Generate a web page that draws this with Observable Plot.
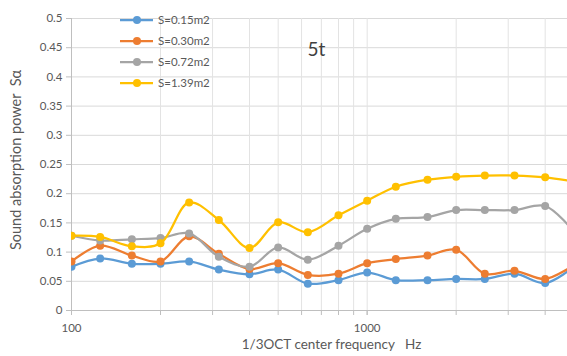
<!DOCTYPE html>
<html>
<head>
<meta charset="utf-8">
<script src="https://cdn.jsdelivr.net/npm/d3@7"></script>
<script src="https://cdn.jsdelivr.net/npm/@observablehq/plot@0.6"></script>
<style>
  html, body { margin: 0; padding: 0; background: #fff; overflow: hidden; }
  #wrap { position: relative; width: 567px; height: 356px; font-family: Lato, "Open Sans", sans-serif; }
  #legend { position: absolute; left: 120px; top: 9px; font-size: 11.5px; color: #595959; }
  #legend .row { display: flex; align-items: center; height: 21px; }
  #legend svg { margin-right: 4px; }
  #ytitle { position: absolute; left: 15px; top: 160px; transform: translate(-50%, -50%) rotate(-90deg); white-space: pre; font-size: 14.5px; color: #595959; }
</style>
</head>
<body>
<div id="wrap"><div id="chart"></div><div id="legend"></div><div id="ytitle"></div></div>
<script>
const freqs = [100,125,160,200,250,315,400,500,630,800,1000,1250,1600,2000,2500,3150,4000,5000];
const s015 = [0.075,0.089,0.080,0.080,0.084,0.070,0.062,0.070,0.046,0.052,0.065,0.052,0.052,0.054,0.054,0.063,0.047,0.075];
const s030 = [0.084,0.111,0.094,0.084,0.127,0.097,0.071,0.081,0.061,0.063,0.081,0.088,0.094,0.104,0.063,0.068,0.054,0.078];
const s072 = [0.128,0.120,0.122,0.124,0.132,0.092,0.075,0.108,0.087,0.111,0.140,0.157,0.160,0.172,0.172,0.172,0.179,0.135];
const s139 = [0.128,0.126,0.110,0.115,0.185,0.155,0.107,0.151,0.134,0.163,0.188,0.212,0.224,0.229,0.231,0.231,0.228,0.221];
const seriesNames = ["S=0.15m2","S=0.30m2","S=0.72m2","S=1.39m2"];
const seriesColors = ["#5B9BD5","#ED7D31","#A5A5A5","#FFC000"];
const yTicks = [0,0.05,0.1,0.15,0.2,0.25,0.3,0.35,0.4,0.45,0.5];
const xLabelTicks = [100,1000];
const xGridTicks = [200,300,400,500,600,700,800,900,1000,2000,3000,4000];
const chartTitle = "5t";
const xTitle = "1/3OCT center frequency   Hz";
const yTitle = "Sound absorption power  S\u03b1";

const allSeries = [s015, s030, s072, s139];
const rows = [];
allSeries.forEach((vals, i) => vals.forEach((v, j) => rows.push({s: seriesNames[i], f: freqs[j], v})));

const seriesMarks = [];
seriesNames.forEach(name => {
  const d = rows.filter(r => r.s === name);
  seriesMarks.push(Plot.line(d, {x: "f", y: "v", stroke: "s", strokeWidth: 2.25, curve: "catmull-rom", clip: true}));
  seriesMarks.push(Plot.dot(d, {x: "f", y: "v", fill: "s", r: 4, clip: true}));
});

const chart = Plot.plot({
  width: 567,
  height: 356,
  marginLeft: 71,
  marginRight: 0,
  marginTop: 18,
  marginBottom: 46,
  style: {fontFamily: "Lato, 'Open Sans', sans-serif", fontSize: "11.5px", color: "#595959", background: "#fff"},
  x: {type: "log", domain: [100, 4760]},
  y: {domain: [0, 0.5]},
  color: {domain: seriesNames, range: seriesColors},
  marks: [
    Plot.gridY(yTicks, {stroke: "#d9d9d9", strokeOpacity: 1}),
    Plot.gridX(xGridTicks, {stroke: "#e3e3e3", strokeOpacity: 1}),
    Plot.ruleY([0], {stroke: "#bfbfbf"}),
    Plot.ruleX([100], {stroke: "#bfbfbf"}),
    Plot.axisY({ticks: yTicks, tickSize: 5, tickPadding: 4, stroke: "#bfbfbf", tickFormat: d => String(+d.toFixed(2)), label: null, fill: "#595959"}),
    Plot.axisX({ticks: xGridTicks, tickSize: 5, tickFormat: () => "", stroke: "#bfbfbf", label: null}),
    Plot.axisX({ticks: xLabelTicks, tickSize: 5, tickPadding: 8, stroke: "#bfbfbf", tickFormat: d => String(d), label: null, fill: "#595959"}),
    Plot.text([xTitle], {frameAnchor: "bottom", dy: 38, dx: 12, fontSize: 13.5, fill: "#595959"}),
    Plot.text([chartTitle], {frameAnchor: "top-left", dx: 236, dy: 24, fontSize: 19, fill: "#404040", textAnchor: "start"}),
    ...seriesMarks
  ]
});
document.getElementById("chart").appendChild(chart);
document.getElementById("ytitle").textContent = yTitle;

const legend = document.getElementById("legend");
seriesNames.forEach((name, i) => {
  const row = document.createElement("div");
  row.className = "row";
  row.innerHTML = `<svg width="34" height="10"><line x1="0" y1="5" x2="33" y2="5" stroke="${seriesColors[i]}" stroke-width="2.25"/><circle cx="17" cy="5" r="4" fill="${seriesColors[i]}"/></svg><span>${name}</span>`;
  legend.appendChild(row);
});
</script>
</body>
</html>
